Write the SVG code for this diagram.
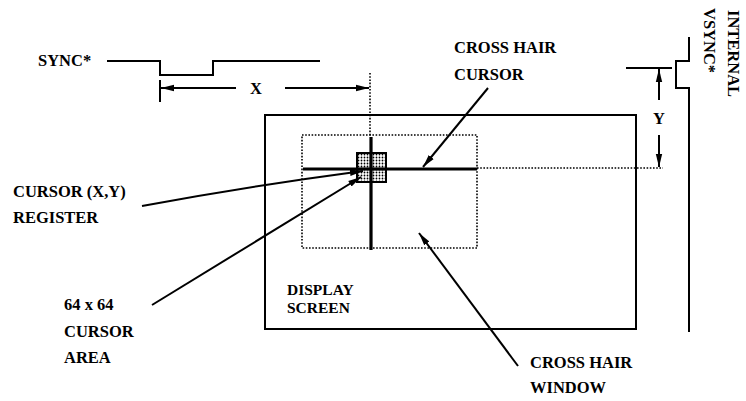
<svg xmlns="http://www.w3.org/2000/svg" width="746" height="401" viewBox="0 0 746 401">
<style>
text{font-family:"Liberation Serif","Times New Roman",serif;font-weight:bold;font-size:16.5px;fill:#000}
.sm{font-size:15.5px}
.ln{stroke:#000;stroke-width:2;fill:none}
.thick{stroke:#000;stroke-width:3.2;fill:none}
.dot{stroke:#000;stroke-width:1.6;stroke-dasharray:1.6 1.6;fill:none}
.arr{stroke:#000;stroke-width:2;fill:none;marker-end:url(#ah)}
</style>
<defs>
<marker id="ah" markerUnits="userSpaceOnUse" markerWidth="14" markerHeight="8" refX="13" refY="4" orient="auto">
<path d="M0,0.8 L13,4 L0,7.2 Z" fill="#000"/>
</marker>
<pattern id="stip" patternUnits="userSpaceOnUse" width="3" height="3">
<rect width="3" height="3" fill="#fff"/>
<circle cx="1.5" cy="1.5" r="0.9" fill="#000"/>
</pattern>
</defs>

<g id="sync">
<text x="38" y="66">SYNC*</text>
<path class="ln" d="M107,61 H160 V75 H213 V61 H320"/>
</g>

<g id="vsync">
<path class="ln" d="M689,37 V61 H676 V88 H689 V332"/>
<text transform="translate(728,10) rotate(90)">INTERNAL</text>
<text transform="translate(704,8) rotate(90)">VSYNC*</text>
</g>

<g id="display-screen">
<rect class="ln" x="265" y="115" width="371" height="214"/>
<text class="sm" x="287" y="295">DISPLAY</text>
<text class="sm" x="287" y="313">SCREEN</text>
</g>

<g id="crosshair-window">
<rect class="dot" x="302" y="135" width="175" height="113"/>
</g>

<g id="crosshair">
<line class="thick" x1="303" y1="169" x2="477" y2="169"/>
<line class="thick" x1="371" y1="137" x2="371" y2="250"/>
</g>

<g id="cursor-area">
<rect x="357" y="153" width="29" height="29" fill="url(#stip)" stroke="#000" stroke-width="2"/>
<line class="thick" x1="357" y1="169" x2="386" y2="169"/>
<line class="thick" x1="371" y1="153" x2="371" y2="182"/>
</g>

<g id="labels">
<text x="454" y="53">CROSS HAIR</text>
<text x="454" y="80">CURSOR</text>
<text x="13" y="197">CURSOR (X,Y)</text>
<text x="13" y="223">REGISTER</text>
<text x="64" y="310">64 x 64</text>
<text x="64" y="337">CURSOR</text>
<text x="64" y="363">AREA</text>
<text x="530" y="368">CROSS HAIR</text>
<text x="530" y="393">WINDOW</text>
<text x="250" y="94">X</text>
<text x="653" y="124">Y</text>
</g>

<g id="connectors">
<line class="dot" x1="370" y1="73" x2="370" y2="137"/>
<line class="dot" x1="477" y1="168" x2="663" y2="168"/>
<line class="ln" x1="160" y1="80" x2="160" y2="102"/>
<line class="arr" x1="236" y1="88" x2="161" y2="88"/>
<line class="arr" x1="285" y1="88" x2="369" y2="88"/>
<line class="ln" x1="626" y1="68" x2="672" y2="68"/>
<line class="arr" x1="659" y1="100" x2="659" y2="69"/>
<line class="arr" x1="659" y1="135" x2="659" y2="167"/>
<line class="arr" x1="488" y1="88" x2="423" y2="167"/>
<path class="arr" d="M142,206 Q250,186 363,171"/>
<line class="arr" x1="152" y1="305" x2="361" y2="177"/>
<line class="arr" x1="518" y1="366" x2="419" y2="233"/>
</g>
</svg>
